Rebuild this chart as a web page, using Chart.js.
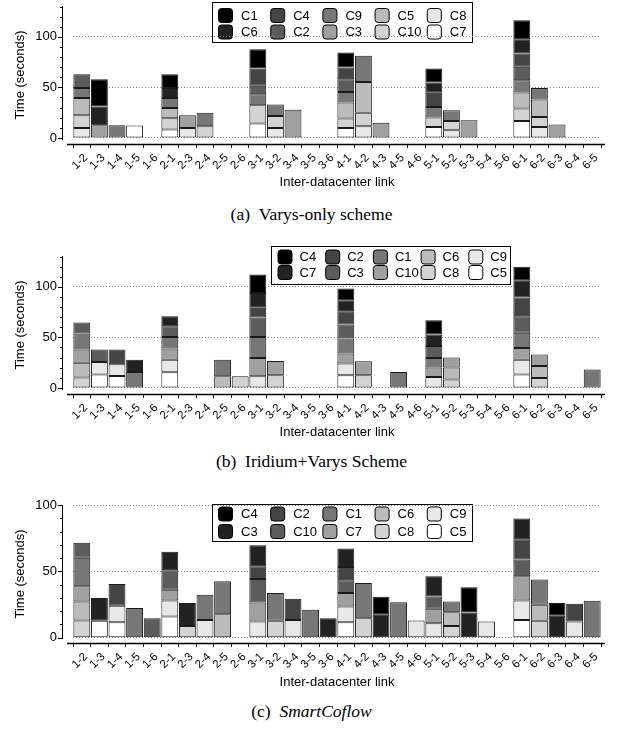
<!DOCTYPE html>
<html>
<head>
<meta charset="utf-8">
<script src="https://cdn.jsdelivr.net/npm/chart.js@4.4.1/dist/chart.umd.min.js"></script>
<style>
  body { margin: 0; background: #fff; width: 623px; height: 734px; position: relative; overflow: hidden; }
  canvas { position: absolute; left: 0; }
  .caption { position: absolute; left: 0; width: 623px; text-align: center; font-family: "Liberation Serif", "Times New Roman", serif; font-size: 17.5px; color: #000; }
</style>
</head>
<body>
<canvas id="varys" width="623" height="200" style="top:0px"></canvas>
<div class="caption" style="top:204px">(a)&nbsp;&nbsp;Varys-only scheme</div>
<canvas id="iridium" width="623" height="210" style="top:240px"></canvas>
<div class="caption" style="top:451px">(b)&nbsp;&nbsp;Iridium+Varys Scheme</div>
<canvas id="smart" width="623" height="210" style="top:490px"></canvas>
<div class="caption" style="top:701px">(c)&nbsp;&nbsp;<i>SmartCoflow</i></div>

<script>
const links = ['1-2', '1-3', '1-4', '1-5', '1-6', '2-1', '2-3', '2-4', '2-5', '2-6',
               '3-1', '3-2', '3-4', '3-5', '3-6', '4-1', '4-2', '4-3', '4-5', '4-6',
               '5-1', '5-2', '5-3', '5-4', '5-6', '6-1', '6-2', '6-3', '6-4', '6-5'];
const yTicks = [0, 50, 100];
// darkest -> lightest, legend is filled column by column in this order
const shades = ['#000000', '#222222', '#444444', '#5c5c5c', '#777777', '#a0a0a0', '#bbbbbb', '#d3d3d3', '#e8e8e8', '#ffffff'];

// (a) Varys-only
const varysOrder = ['C1', 'C6', 'C4', 'C2', 'C9', 'C3', 'C5', 'C10', 'C8', 'C7'];
const varysC1  = [0, 27, 0, 0, 0,  13.5, 0, 0, 0, 0,  19.2, 0, 0, 0, 0,  14.9, 0, 0, 0, 0,  13.8, 0, 0, 0, 0,  18.8, 0, 0, 0, 0];
const varysC6  = [0, 18.5, 0, 0, 0,  9.9, 0, 0, 0, 0,  0, 0, 0, 0, 0,  0, 0, 0, 0, 0,  10.2, 0, 0, 0, 0,  14.2, 0, 0, 0, 0];
const varysC4  = [0, 0, 0, 0, 0,  0, 0, 0, 0, 0,  17.1, 0, 0, 0, 0,  11.6, 0, 0, 0, 0,  13.9, 0, 0, 0, 0,  13.2, 0, 0, 0, 0];
const varysC2  = [13.5, 0, 0, 0, 0,  0, 0, 0, 0, 0,  8.3, 0, 0, 0, 0,  12.5, 0, 0, 0, 0,  0, 0, 0, 0, 0,  13.2, 0, 0, 0, 0];
const varysC9  = [9.9, 0, 12.5, 0, 0,  9.9, 0, 13.2, 0, 0,  10.9, 11.2, 0, 0, 0,  10.5, 25.8, 0, 0, 0,  10.6, 10.6, 0, 0, 0,  12.2, 11.5, 0, 0, 0];
const varysC3  = [0, 12.5, 0, 0, 0,  0, 12.5, 0, 0, 0,  0, 0, 28, 0, 0,  0, 0, 14.9, 0, 0,  0, 0, 17.5, 0, 0,  0, 0, 13.2, 0, 0];
const varysC5  = [17.2, 0, 0, 0, 0,  10.2, 0, 0, 0, 0,  0, 0, 0, 0, 0,  15.9, 30.6, 0, 0, 0,  0, 0, 0, 0, 0,  15.9, 17.2, 0, 0, 0];
const varysC10 = [12.5, 0, 0, 0, 0,  11.2, 0, 11.6, 0, 0,  18.1, 11.9, 0, 0, 0,  9.2, 13.2, 0, 0, 0,  9.2, 9.2, 0, 0, 0,  12.2, 9.9, 0, 0, 0];
const varysC8  = [9.9, 0, 0, 0, 0,  0, 9.9, 0, 0, 0,  0, 9.9, 0, 0, 0,  0, 11.6, 0, 0, 0,  0, 7.6, 0, 0, 0,  0, 10.9, 0, 0, 0];
const varysC7  = [0, 0, 0, 12.2, 0,  8.3, 0, 0, 0, 0,  14.2, 0, 0, 0, 0,  9.9, 0, 0, 0, 0,  10.9, 0, 0, 0, 0,  16.8, 0, 0, 0, 0];

// (b) Iridium+Varys
const iridiumOrder = ['C4', 'C7', 'C2', 'C3', 'C1', 'C10', 'C6', 'C8', 'C9', 'C5'];
const irC4  = [0, 0, 0, 0, 0,  0, 0, 0, 0, 0,  18.2, 0, 0, 0, 0,  11.5, 0, 0, 0, 0,  14.2, 0, 0, 0, 0,  13.2, 0, 0, 0, 0];
const irC7  = [0, 0, 0, 12.2, 0,  10, 0, 0, 0, 0,  14.8, 0, 0, 0, 0,  10.9, 0, 0, 0, 0,  11.2, 0, 0, 0, 0,  17.2, 0, 0, 0, 0];
const irC2  = [0, 0, 14.6, 0, 0,  0, 0, 0, 0, 0,  9.6, 0, 0, 0, 0,  13.2, 0, 0, 0, 0,  0, 0, 0, 0, 0,  18.4, 0, 0, 0, 0];
const irC3  = [10.9, 12.3, 0, 0, 0,  10.5, 0, 0, 0, 0,  19.1, 0, 0, 0, 0,  13.9, 0, 0, 0, 0,  11.9, 0, 0, 0, 0,  16.5, 0, 0, 0, 0];
const irC1  = [15.8, 0, 0, 15.8, 0,  11.6, 0, 0, 16.4, 0,  20.8, 0, 0, 0, 0,  14.8, 0, 0, 15.8, 0,  9.6, 0, 0, 0, 0,  14.9, 0, 0, 0, 18.2];
const irC10 = [13.2, 0, 0, 0, 0,  10.9, 0, 0, 0, 0,  18.1, 14.2, 0, 0, 0,  9.9, 13.9, 0, 0, 0,  9.2, 9.9, 0, 0, 0,  11.6, 11.2, 0, 0, 0];
const irC6  = [14.6, 0, 0, 0, 0,  0, 0, 0, 11.6, 0,  0, 0, 0, 0, 0,  0, 0, 0, 0, 0,  0, 11.8, 0, 0, 0,  0, 11.9, 0, 0, 0];
const irC8  = [10.2, 0, 0, 0, 0,  0, 0, 0, 0, 11.6,  0, 12.5, 0, 0, 0,  0, 12.5, 0, 0, 0,  0, 8.3, 0, 0, 0,  0, 9.9, 0, 0, 0];
const irC9  = [0, 12.5, 11.5, 0, 0,  12.5, 0, 0, 0, 0,  11.6, 0, 0, 0, 0,  11.6, 0, 0, 0, 0,  10.9, 0, 0, 0, 0,  14.8, 0, 0, 0, 0];
const irC5  = [0, 13.2, 11.9, 0, 0,  15.5, 0, 0, 0, 0,  0, 0, 0, 0, 0,  12.5, 0, 0, 0, 0,  0, 0, 0, 0, 0,  13.2, 0, 0, 0, 0];

// (c) SmartCoflow
const smartOrder = ['C4', 'C3', 'C2', 'C10', 'C1', 'C7', 'C6', 'C8', 'C9', 'C5'];
const scC4  = [0, 0, 0, 0, 0,  0, 0, 0, 0, 0,  0, 0, 0, 0, 0,  0, 0, 13.7, 0, 0,  0, 0, 19, 0, 0,  0, 0, 9.6, 0, 0];
const scC3  = [0, 17.2, 0, 0, 0,  13.9, 17.2, 0, 0, 0,  15.7, 0, 0, 0, 14.7,  14.1, 0, 17.2, 0, 0,  15.2, 0, 19, 0, 0,  15.7, 0, 16.5, 0, 0];
const scC2  = [0, 0, 16.5, 0, 0,  0, 0, 0, 0, 0,  9.6, 0, 16, 0, 0,  9.9, 0, 0, 0, 0,  0, 0, 0, 0, 0,  15.2, 0, 0, 13.4, 0];
const scC10 = [11.3, 0, 0, 0, 14.7,  14.7, 0, 0, 0, 0,  17.7, 0, 0, 0, 0,  9.6, 0, 0, 0, 0,  9.3, 0, 0, 0, 0,  12.7, 0, 0, 0, 0];
const scC1  = [21.6, 0, 0, 22.3, 0,  0, 0, 19, 24.8, 0,  0, 21, 0, 21, 0,  0, 26.6, 0, 26.8, 0,  0, 8.1, 0, 0, 0,  0, 19, 0, 0, 27.8];
const scC7  = [11.4, 0, 0, 0, 0,  8.1, 0, 0, 0, 0,  14.4, 0, 0, 0, 0,  10.2, 0, 0, 0, 0,  10.9, 0, 0, 0, 0,  18.2, 0, 0, 0, 0];
const scC6  = [14.4, 0, 0, 0, 0,  0, 0, 0, 17.7, 0,  0, 0, 0, 0, 0,  0, 0, 0, 0, 0,  0, 10.3, 0, 0, 0,  0, 12.1, 0, 0, 0];
const scC8  = [12.9, 0, 0, 0, 0,  0, 8.9, 0, 0, 0,  0, 12.7, 0, 0, 0,  0, 14.7, 0, 0, 0,  0, 8.9, 0, 0, 0,  0, 12.7, 0, 0, 0];
const scC9  = [0, 0, 12.4, 0, 0,  12.2, 0, 13.4, 0, 0,  12.2, 0, 13.4, 0, 0,  11.9, 0, 0, 0, 12.9,  10.9, 0, 0, 12.2, 0,  14.7, 0, 0, 12.2, 0];
const scC5  = [0, 12.7, 11.6, 0, 0,  15.9, 0, 0, 0, 0,  0, 0, 0, 0, 0,  11.6, 0, 0, 0, 0,  0, 0, 0, 0, 0,  13.4, 0, 0, 0, 0];

const sans = '"Liberation Sans", Arial, Helvetica, sans-serif';

// lightest series goes to the bottom of each stack
function buildDatasets(order, series) {
    return order.map((name, i) => ({
        label: name,
        data: series[name].map(v => v || null),
        backgroundColor: shades[i],
        borderColor: '#1a1a1a',
        borderWidth: 1,
        borderSkipped: false,
        barPercentage: 0.96,
        categoryPercentage: 1
    })).reverse();
}

// 2 x 5 legend box inside the plot, filled column by column
const gridLegend = {
    id: 'gridLegend',
    beforeDraw(chart, args, opts) {
        const ctx = chart.ctx;
        const sets = chart.data.datasets.slice().reverse();
        ctx.save();
        ctx.fillStyle = '#fff';
        ctx.fillRect(opts.x, opts.y, opts.w, opts.h);
        ctx.strokeStyle = '#000';
        ctx.lineWidth = 1;
        ctx.strokeRect(opts.x + 0.5, opts.y + 0.5, opts.w, opts.h);
        ctx.font = '13px ' + sans;
        ctx.textBaseline = 'middle';
        sets.forEach((ds, i) => {
            const sx = opts.x + opts.pad + Math.floor(i / 2) * opts.colW;
            const sy = opts.y + opts.rowY[i % 2];
            ctx.beginPath();
            ctx.roundRect(sx + 0.5, sy - 6.5, 14, 14, 3);
            ctx.fillStyle = ds.backgroundColor;
            ctx.fill();
            ctx.strokeStyle = '#000';
            ctx.stroke();
            ctx.fillStyle = '#000';
            ctx.fillText(ds.label, sx + opts.textDx, sy + 1);
        });
        ctx.restore();
    }
};

// detached axis lines, as in the original figure
const offsetAxes = {
    id: 'offsetAxes',
    afterDraw(chart) {
        const {ctx, chartArea: a, scales: {y}} = chart;
        const ax = a.left - 11;
        ctx.save();
        ctx.strokeStyle = '#000';
        ctx.lineWidth = 1;
        ctx.beginPath();
        ctx.moveTo(ax + 0.5, a.top);
        ctx.lineTo(ax + 0.5, a.bottom - 4);
        for (let v = 0; v <= y.max; v += 10) {
            const py = Math.round(y.getPixelForValue(v)) + 0.5;
            ctx.moveTo(ax - (v % 50 === 0 ? 4 : 2), py);
            ctx.lineTo(ax + 0.5, py);
        }
        ctx.stroke();
        ctx.lineWidth = 1.5;
        ctx.beginPath();
        ctx.moveTo(a.left - 6, a.bottom + 0.5);
        ctx.lineTo(a.right + 4, a.bottom + 0.5);
        ctx.stroke();
        ctx.restore();
    }
};

function drawPanel(id, height, areaTop, yMin, yMax, datasets, legend) {
    const areaBottom = areaTop + 138;
    const xHeight = height - 5 - areaBottom;
    return new Chart(document.getElementById(id), {
        type: 'bar',
        data: { labels: links, datasets: datasets },
        options: {
            responsive: false,
            animation: false,
            layout: { padding: { top: areaTop, right: 22, bottom: 5, left: 0 } },
            plugins: {
                legend: { display: false },
                tooltip: { enabled: false },
                gridLegend: legend
            },
            scales: {
                x: {
                    stacked: true,
                    afterFit: (scale) => { scale.height = xHeight; },
                    border: { display: false },
                    grid: {
                        offset: true,
                        drawOnChartArea: false,
                        tickLength: 4,
                        tickColor: '#000'
                    },
                    ticks: {
                        autoSkip: false,
                        minRotation: 45,
                        maxRotation: 45,
                        padding: 3,
                        labelOffset: 4,
                        color: '#000',
                        font: { family: sans, size: 11.5 }
                    },
                    title: {
                        display: true,
                        text: 'Inter-datacenter link',
                        color: '#000',
                        font: { family: sans, size: 13 },
                        padding: { top: 0, bottom: 5 }
                    }
                },
                y: {
                    stacked: true,
                    min: yMin,
                    max: yMax,
                    afterFit: (scale) => { scale.width = 73; },
                    afterBuildTicks: (scale) => { scale.ticks = yTicks.map(v => ({ value: v })); },
                    border: { display: false, dash: [1, 2] },
                    // invisible tick marks keep the labels clear of the detached axis line
                    grid: { color: '#888', lineWidth: 1, drawTicks: true, tickLength: 16, tickColor: 'rgba(0,0,0,0)' },
                    ticks: {
                        padding: 0,
                        color: '#000',
                        font: { family: sans, size: 13, lineHeight: 0.9 }
                    },
                    title: {
                        display: true,
                        text: 'Time (seconds)',
                        color: '#000',
                        font: { family: sans, size: 13 },
                        padding: { top: 13, bottom: 0 }
                    }
                }
            }
        },
        plugins: [gridLegend, offsetAxes]
    });
}

drawPanel('varys', 200, 6, -6, 130.5,
    buildDatasets(varysOrder, { C1: varysC1, C6: varysC6, C4: varysC4, C2: varysC2, C9: varysC9,
        C3: varysC3, C5: varysC5, C10: varysC10, C8: varysC8, C7: varysC7 }),
    { x: 212, y: 2, w: 260, h: 40, pad: 6, colW: 52.2, rowY: [13, 29.5], textDx: 23 });

drawPanel('iridium', 210, 16, -6, 130.5,
    buildDatasets(iridiumOrder, { C4: irC4, C7: irC7, C2: irC2, C3: irC3, C1: irC1,
        C10: irC10, C6: irC6, C8: irC8, C9: irC9, C5: irC5 }),
    { x: 271, y: 6, w: 239, h: 38, pad: 6.5, colW: 47.7, rowY: [10.5, 26], textDx: 22 });

drawPanel('smart', 210, 15, -4, 100,
    buildDatasets(smartOrder, { C4: scC4, C3: scC3, C2: scC2, C10: scC10, C1: scC1,
        C7: scC7, C6: scC6, C8: scC8, C9: scC9, C5: scC5 }),
    { x: 212, y: 14, w: 260, h: 37, pad: 6, colW: 52.2, rowY: [9.5, 27], textDx: 23 });
</script>
</body>
</html>
